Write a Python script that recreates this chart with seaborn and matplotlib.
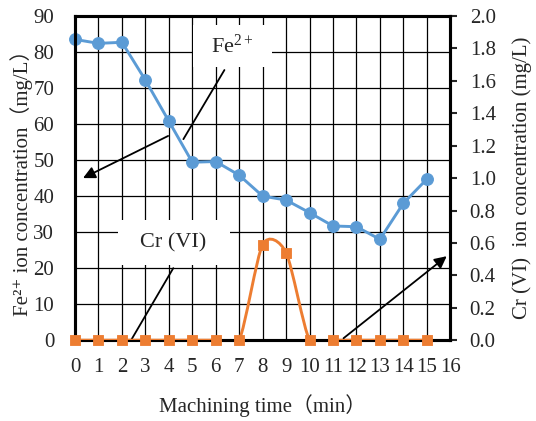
import numpy as np
import seaborn as sns
import matplotlib.pyplot as plt
from matplotlib.path import Path
from matplotlib.patches import PathPatch, Rectangle

# data
time_min = [0, 1, 2, 3, 4, 5, 6, 7, 8, 9, 10, 11, 12, 13, 14, 15]
fe_conc = [83.5, 82.4, 82.7, 72.2, 60.8, 49.4, 49.6, 45.8, 40.0, 38.9,
           35.4, 31.7, 31.5, 28.0, 38.0, 44.7]
cr_conc = [0, 0, 0, 0, 0, 0, 0, 0, 0.59, 0.54, 0, 0, 0, 0, 0, 0]

blue = '#5B9BD5'
orange = '#ED7D31'

sns.set_style('white')
plt.rcParams['font.family'] = ['Liberation Serif', 'DejaVu Serif', 'Noto Sans CJK SC']
plt.rcParams['mathtext.fontset'] = 'custom'
plt.rcParams['mathtext.rm'] = 'Liberation Serif'
plt.rcParams['mathtext.it'] = 'Liberation Serif'
plt.rcParams['mathtext.default'] = 'regular'

fig = plt.figure(figsize=(5.36, 4.21), dpi=100)
ax = fig.add_axes([0.140, 0.192, 0.700, 0.770])

# Fe2+ on the left axis
sns.lineplot(x=time_min, y=fe_conc, ax=ax, color=blue, lw=2.1,
             marker='o', markersize=8.5, markeredgecolor=blue, zorder=5,
             clip_on=False)
ax.set_xlim(0, 16)
ax.set_ylim(0, 90)
ax.set_xticks(range(0, 17))
ax.set_yticks(range(0, 91, 10))
ax.grid(True, color='black', lw=0.9)
ax.set_axisbelow(True)
ax.tick_params(axis='x', labelsize=15, length=0, pad=13)
ax.tick_params(axis='y', labelsize=15, length=0, pad=15)
ax.set_xlabel('Machining time（min）', fontsize=15, labelpad=12)
ax.set_ylabel('Fe²⁺ ion concentration（mg/L）', fontsize=15, labelpad=0)
for s in ax.spines.values():
    s.set_linewidth(2.2)
    s.set_color('black')

# white boxes behind the series labels
ax.add_patch(Rectangle((5.04, 75.8), 3.38, 11.7, facecolor='white',
                       edgecolor='none', zorder=1))
ax.add_patch(Rectangle((1.84, 20.8), 4.78, 12.5, facecolor='white',
                       edgecolor='none', zorder=1))
ax.text(6.72, 81.6, 'Fe$^{2+}$', fontsize=16, ha='center', va='center',
        zorder=3)
ax.text(4.2, 27.0, 'Cr (VI)', fontsize=16, ha='center', va='center',
        zorder=3)

# leader lines / arrows
ax.plot([6.37, 4.62], [75.0, 55.8], color='black', lw=1.3, zorder=3)
ax.annotate('', xy=(0.34, 45.0), xytext=(3.97, 56.7),
            arrowprops=dict(arrowstyle='-|>', color='black', lw=1.3,
                            mutation_scale=18, shrinkA=0, shrinkB=0),
            zorder=3)
ax.plot([4.19, 2.39], [20.0, 0.0], color='black', lw=1.3, zorder=3)

# Cr(VI) on the right axis
ax2 = ax.twinx()
ax2.set_ylim(0, 2.0)
ax2.set_yticks(np.arange(0, 2.01, 0.2))
ax2.set_yticklabels([f'{v:.1f}' for v in np.arange(0, 2.01, 0.2)])
ax2.tick_params(axis='y', labelsize=15, length=5, width=1.5,
                direction='out', pad=9)
ax2.set_ylabel('Cr (VI)  ion concentration (mg/L)', fontsize=15, labelpad=12)
for s in ax2.spines.values():
    s.set_linewidth(2.2)
    s.set_color('black')

# smoothed line (bezier through the points, like a spreadsheet "smooth line")
px = np.array(time_min, dtype=float)
py = np.array(cr_conc, dtype=float)
k = 1 / 8
verts = [(px[0], py[0])]
codes = [Path.MOVETO]
n = len(px)
for i in range(n - 1):
    x0, y0 = (px[i - 1], py[i - 1]) if i > 0 else (px[i], py[i])
    x3, y3 = (px[i + 2], py[i + 2]) if i + 2 < n else (px[i + 1], py[i + 1])
    c1 = (px[i] + (px[i + 1] - x0) * k, py[i] + (py[i + 1] - y0) * k)
    c2 = (px[i + 1] - (x3 - px[i]) * k, py[i + 1] - (y3 - py[i]) * k)
    verts += [c1, c2, (px[i + 1], py[i + 1])]
    codes += [Path.CURVE4] * 3
ax2.add_patch(PathPatch(Path(verts, codes), facecolor='none',
                        edgecolor=orange, lw=2.1, zorder=4))
sns.scatterplot(x=time_min, y=cr_conc, ax=ax2, color=orange, marker='s',
                s=60, edgecolor=orange, zorder=5, clip_on=False)

ax2.annotate('', xy=(15.85, 0.518), xytext=(11.45, 0.012),
             arrowprops=dict(arrowstyle='-|>', color='black', lw=1.3,
                             mutation_scale=18, shrinkA=0, shrinkB=0),
             zorder=6)

fig.savefig('out.png', dpi=100)
